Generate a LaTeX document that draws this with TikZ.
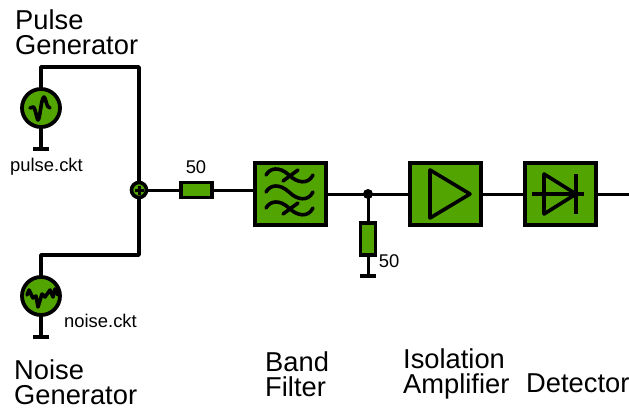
\documentclass[tikz,border=0pt]{standalone}
\usepackage{fontspec}
\setmainfont{Liberation Sans}
\definecolor{grn}{HTML}{52A500}
\tikzset{
  wire/.style={line width=3pt,line join=round},
  tap/.style={line width=3.6pt,line join=round},
  block/.style={draw=black,fill=grn,line width=4pt,minimum width=71pt,minimum height=62pt,inner sep=0pt},
  res/.style={draw=black,fill=grn,line width=3.6pt,inner sep=0pt},
  src/.style={circle,draw=black,fill=grn,line width=3.8pt,minimum size=38pt,inner sep=0pt},
  sym/.style={line width=3.6pt,line join=round,line cap=round},
  big/.style={align=left,anchor=north west,inner sep=0pt,font=\fontsize{27.3}{25}\selectfont},
  small/.style={inner sep=0pt,font=\fontsize{18.4}{20}\selectfont},
  dot/.style={circle,fill=black,minimum size=10pt,inner sep=0pt}
}
\begin{document}
\begin{tikzpicture}[x=1pt,y=-1pt]
\useasboundingbox (0,0) rectangle (629,409);
% nodes
\coordinate (pc) at (41,67);
\coordinate (pt) at (139,67);
\coordinate (nc) at (41,255);
\coordinate (nt) at (139,255);
\coordinate (pg) at (41,149);
\coordinate (ng) at (41,337);
\coordinate (rg) at (368,276);
\coordinate (out) at (629,194);
\coordinate (sc) at (139,190);
\coordinate (bfl) at (253,190);
\draw[tap] (41,108) -- (pc) -- (pt) -- (sc);
\draw[tap] (41,296) -- (nc) -- (nt) -- (sc);
\draw[wire] (sc) -- (bfl);
\draw[wire] (290,194) -- (out);
\draw[wire] (368,194) -- (rg);
\draw[tap] (41,108) -- (pg);
\draw[tap] (41,296) -- (ng);
\node[src] (ps) at (41,108) {};
\node[src] (ns) at (41,296) {};
\node[circle,draw=black,fill=grn,line width=3.6pt,minimum size=15pt,inner sep=0pt] (sum) at (139,190) {};
\node[res,minimum width=31pt,minimum height=15pt] (r1) at (196.5,190) {};
\node[block] (bf) at (290.5,194) {};
\node[dot] (j) at (368,194) {};
\node[res,minimum width=15pt,minimum height=32pt] (r2) at (368,239) {};
\node[block] (amp) at (445.5,194) {};
\node[block] (det) at (560,194) {};
\draw[line width=3.2pt] (33,149) -- (49,149);
\draw[line width=3.2pt] (33,337) -- (49,337);
\draw[line width=3.2pt] (360,276) -- (376,276);
% summer plus
\draw[line width=3pt] (134.5,190) -- (143.5,190) (139,185.5) -- (139,194.5);
% pulse glyph
\draw[sym] (30,108) -- (33,107) .. controls (35,106) and (37,120) .. (38,120) .. controls (40,120) and (41,98) .. (44,97) .. controls (46,97) and (46,108) .. (50,108);
% noise glyph
\draw[sym] (27,295) -- (29,290) -- (33,298) -- (36,296) -- (38,307) -- (42,294) -- (45,297) -- (50,290) -- (53,297) -- (55,289) -- (58,295);
% filter glyph
\foreach \yy in {0,17,33}{
  \draw[sym] (266,\yy+175) .. controls (270,\yy+168) and (279,\yy+166) .. (289,\yy+175) .. controls (297,\yy+183) and (308,\yy+185) .. (313,\yy+175);
}
\draw[sym] (283,181) -- (298,170);
\draw[sym] (283,214) -- (298,203);
% amplifier glyph
\draw[sym] (430,170) -- (470,194) -- (430,218) -- cycle;
% detector glyph
\draw[sym,line cap=butt] (544,174) -- (576,194) -- (544,214) -- cycle;
\draw[line width=3.2pt] (576,174) -- (576,214);
\draw[line width=3.2pt] (532,194) -- (584,194);
% labels
\node[big] (t1) at (15,10) {Pulse\\Generator};
\node[big] (t2) at (14,360) {Noise\\Generator};
\node[big] (t3) at (265,352) {Band\\Filter};
\node[big] (t4) at (403,349) {Isolation\\Amplifier};
\node[big] (t5) at (526,374) {Detector};
\node[small,anchor=west] (l1) at (10,167) {pulse.ckt};
\node[small,anchor=west] (l2) at (64,321) {noise.ckt};
\node[small] (l3) at (196,167) {50};
\node[small] (l4) at (389,261) {50};
\end{tikzpicture}
\end{document}
